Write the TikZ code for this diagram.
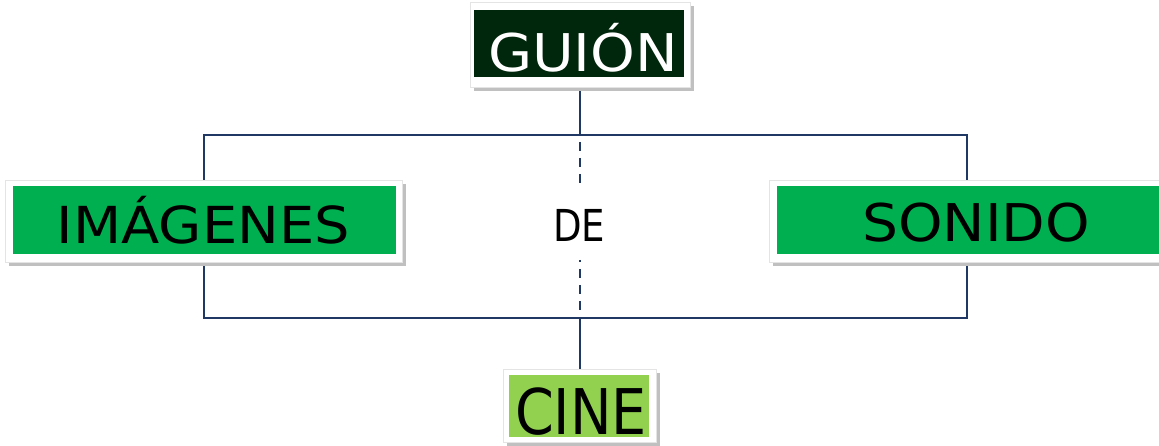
\documentclass[tikz,border=0pt]{standalone}
\usepackage{fontspec}
\setmainfont{DejaVu Sans}
\usetikzlibrary{shadows,backgrounds}
\definecolor{navy}{RGB}{31,56,100}
\definecolor{darkleaf}{RGB}{0,38,12}
\definecolor{leaf}{RGB}{0,176,80}
\definecolor{lime}{RGB}{146,208,80}
\definecolor{shade}{RGB}{192,192,192}
\definecolor{rim}{RGB}{228,228,228}
% stretch a word to a given width, keeping its height
\newcommand\fitwidth[2]{\resizebox{#1}{\height}{#2}}

\begin{document}
\begin{tikzpicture}[x=1pt,y=-1pt,
  frame/.style={draw=rim, line width=0.8pt, fill=white, inner sep=0pt,
    drop shadow={shadow xshift=3.5pt, shadow yshift=-4pt, fill=shade, opacity=1}},
  panel/.style={inner sep=0pt, draw=none},
  word/.style={inner sep=0pt, anchor=base, text depth=0pt, font=\fontsize{#1}{#1}\selectfont},
  link/.style={draw=navy, line width=2.2pt},
  broken/.style={link, dash pattern=on 9pt off 7pt}
]
\useasboundingbox (0,0) rectangle (1159,446);

% white frames with drop shadow
\node[frame, minimum width=220, minimum height=85] (guionframe) at (580,44.5) {};
\node[frame, minimum width=397, minimum height=82] (imgframe) at (204,221) {};
\node[frame, minimum width=395, minimum height=82] (sonframe) at (967,221) {};
\node[frame, minimum width=153, minimum height=73] (cineframe) at (580,405.5) {};

% coloured panels
\node[panel, fill=darkleaf, minimum width=210, minimum height=67] (guionpanel) at (579,44) {};
\node[panel, fill=leaf, minimum width=383, minimum height=68] (imgpanel) at (204.5,220) {};
\node[panel, fill=leaf, minimum width=385, minimum height=68] (sonpanel) at (969.5,220) {};
\node[panel, fill=lime, minimum width=140, minimum height=62] (cinepanel) at (579,406) {};

% words
\node[word=52, text=white] (guion) at (583,72) {\fitwidth{190pt}{GUIÓN}};
\node[word=51] (imagenes) at (203.5,244) {\fitwidth{293pt}{IMÁGENES}};
\node[word=52] (sonido) at (976,242) {\fitwidth{228pt}{SONIDO}};
\node[word=63] (cine) at (581,434) {\fitwidth{132pt}{CINE}};
\node[word=44] (de) at (579,242) {\fitwidth{52pt}{DE}};

% bracket connectors
\coordinate (tbm) at (580,135);
\coordinate (bbm) at (580,318);
\coordinate (dashtop) at (580,184);
\coordinate (dashbot) at (580,260);

\begin{scope}[on background layer]
  \draw[link] (guionframe.south) -- (tbm);
  \draw[link] (imgframe.north) |- (tbm) -| (sonframe.north);
  \draw[link] (imgframe.south) |- (bbm) -| (sonframe.south);
  \draw[link] (bbm) -- (cineframe.north);
  \draw[broken, dash phase=9pt] (tbm) -- (dashtop);
  \draw[broken, dash phase=7pt] (dashbot) -- (bbm);
\end{scope}
\end{tikzpicture}
\end{document}
